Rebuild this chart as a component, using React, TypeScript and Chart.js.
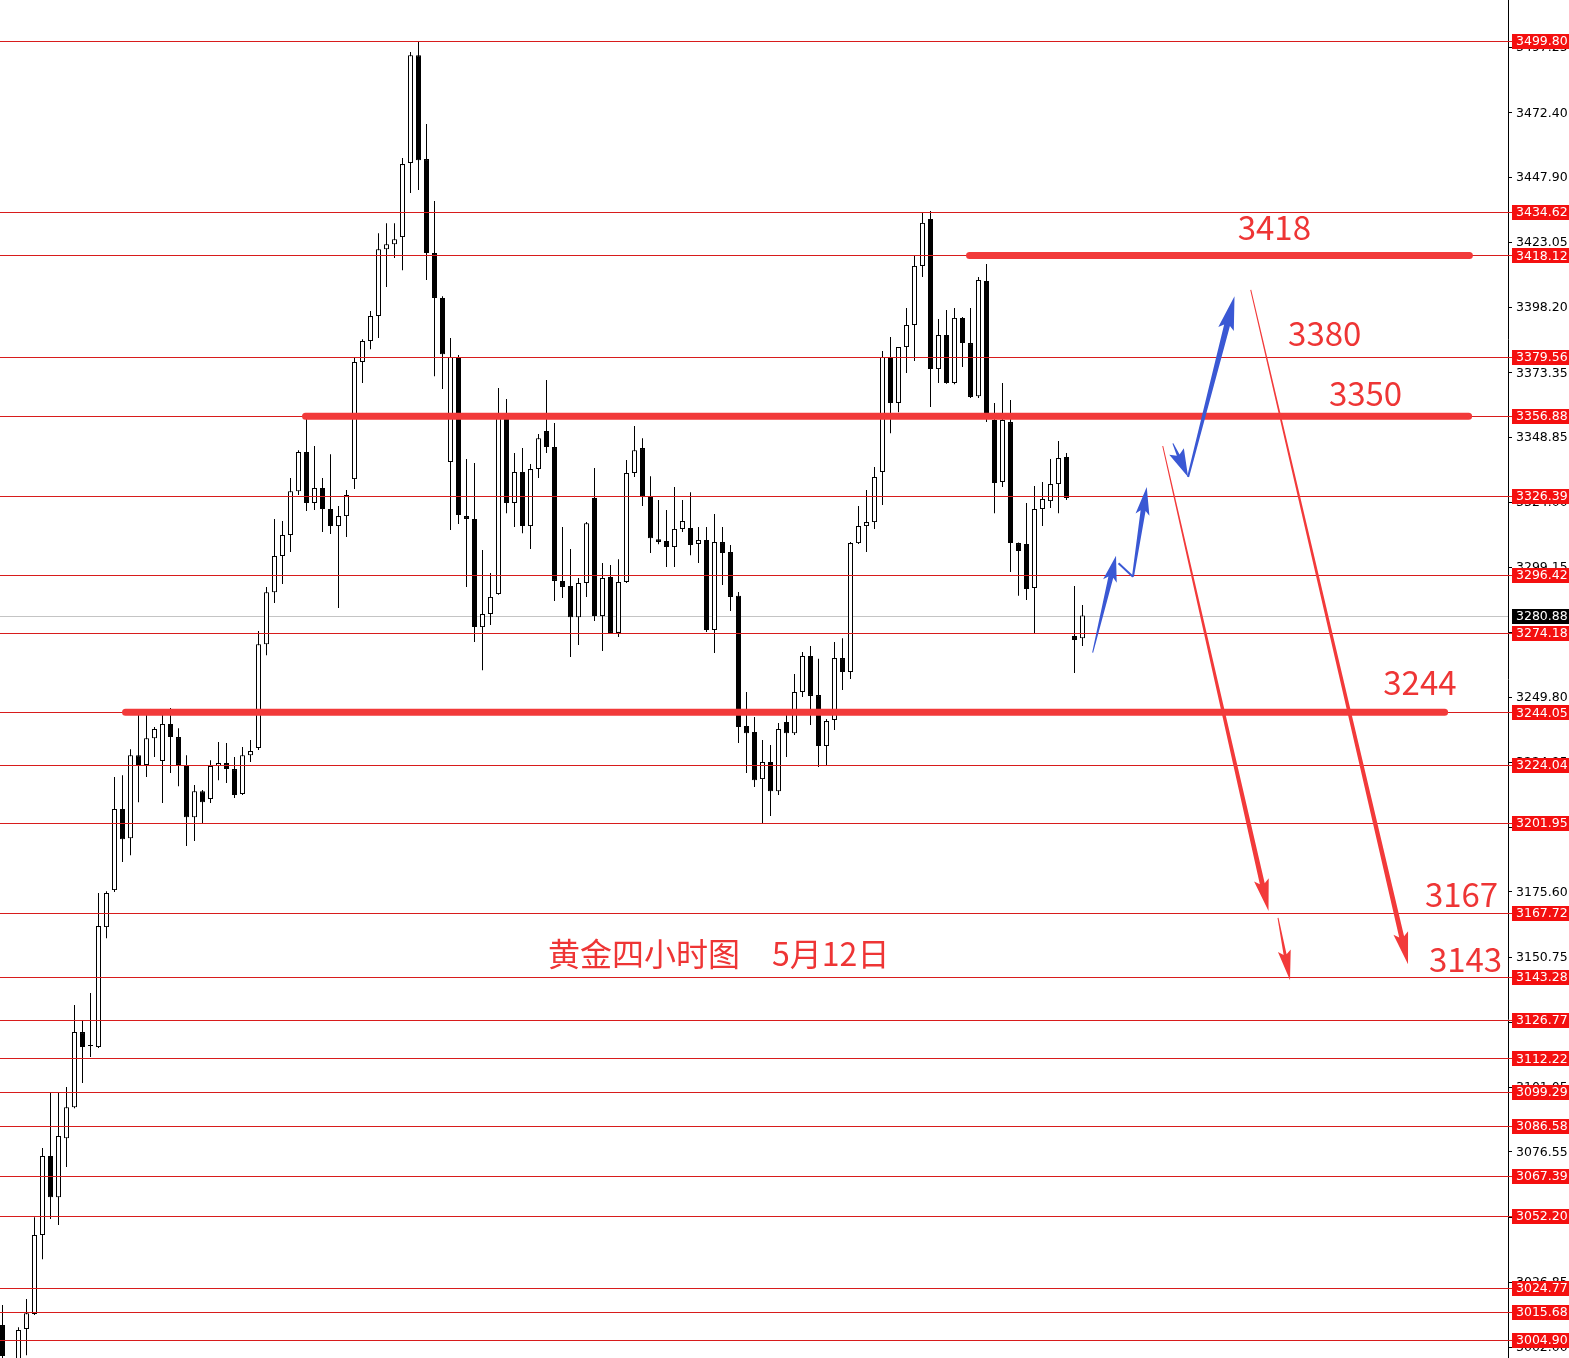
import React, { useEffect, useRef } from 'react';
import { Chart, registerables } from 'chart.js';

Chart.register(...registerables);

// ---------------- DATA ----------------
const openPrices = [
  3010.6, 2994.0, 2991.5, 3009.1, 3014.8, 3044.9, 3075.0, 3059.3, 3081.8, 3093.6,
  3122.2, 3116.9, 3116.5, 3162.2, 3176.3, 3207.2, 3196.1, 3227.7, 3224.0, 3234.2,
  3225.5, 3239.6, 3234.6, 3223.6, 3204.1, 3214.0, 3211.0, 3223.6, 3224.7, 3222.4,
  3212.9, 3227.7, 3230.4, 3270.0, 3289.8, 3303.6, 3311.6, 3328.3, 3343.2, 3323.8,
  3329.5, 3321.5, 3315.0, 3318.8, 3332.9, 3377.5, 3385.5, 3395.0, 3420.5, 3422.4,
  3425.1, 3453.3, 3494.4, 3454.8, 3419.0, 3401.9, 3339.4, 3379.4, 3318.8, 3317.7,
  3276.5, 3281.5, 3289.1, 3357.7, 3323.8, 3335.6, 3315.0, 3336.7, 3351.2, 3345.1,
  3294.1, 3292.2, 3280.3, 3293.3, 3325.7, 3280.7, 3295.6, 3274.3, 3293.7, 3335.2,
  3344.7, 3326.1, 3310.0, 3309.3, 3307.0, 3313.9, 3314.3, 3308.2, 3309.7, 3275.4,
  3308.9, 3305.1, 3288.4, 3238.8, 3236.5, 3218.6, 3225.1, 3214.0, 3240.3, 3236.1,
  3251.8, 3265.5, 3250.6, 3231.2, 3241.1, 3264.7, 3259.4, 3308.5, 3315.0, 3316.5,
  3335.6, 3379.4, 3361.9, 3383.2, 3391.6, 3414.1, 3432.0, 3374.8, 3387.8, 3369.5,
  3394.3, 3384.7, 3364.5, 3408.4, 3355.4, 3331.8, 3354.6, 3308.5, 3308.2, 3291.4,
  3321.5, 3324.5, 3331.0, 3341.3, 3273.1, 3272.3,
];
const highPrices = [
  3018.2, 2996.0, 3009.8, 3020.5, 3051.7, 3078.0, 3099.0, 3099.0, 3101.3, 3132.5,
  3126.4, 3137.1, 3175.2, 3175.9, 3219.4, 3220.1, 3230.0, 3243.7, 3245.3, 3238.4,
  3244.1, 3245.7, 3238.0, 3227.7, 3216.3, 3214.4, 3225.8, 3232.7, 3232.3, 3227.0,
  3230.8, 3233.5, 3275.0, 3291.8, 3317.7, 3316.9, 3333.3, 3343.9, 3357.7, 3345.5,
  3333.3, 3342.4, 3322.6, 3328.7, 3379.0, 3386.2, 3396.9, 3426.6, 3430.4, 3430.4,
  3455.2, 3495.6, 3499.8, 3468.2, 3438.8, 3402.6, 3386.6, 3380.2, 3340.5, 3339.0,
  3305.9, 3297.1, 3367.6, 3363.4, 3342.8, 3344.7, 3338.6, 3350.1, 3370.6, 3354.3,
  3314.6, 3306.3, 3295.2, 3316.5, 3337.1, 3300.9, 3300.2, 3302.4, 3340.2, 3353.1,
  3348.5, 3334.0, 3324.9, 3321.1, 3329.9, 3324.9, 3327.9, 3314.6, 3314.6, 3319.6,
  3314.6, 3307.8, 3289.9, 3251.8, 3242.3, 3233.5, 3231.6, 3240.0, 3244.9, 3258.6,
  3267.0, 3269.3, 3264.4, 3241.5, 3270.8, 3272.3, 3308.9, 3322.6, 3328.7, 3337.5,
  3381.7, 3387.0, 3383.2, 3398.1, 3417.9, 3434.3, 3435.0, 3393.9, 3397.3, 3398.1,
  3394.6, 3398.1, 3409.9, 3414.8, 3361.9, 3369.5, 3363.0, 3308.7, 3323.8, 3330.3,
  3331.8, 3340.5, 3347.4, 3342.8, 3292.2, 3284.9,
];
const lowPrices = [
  2995.3, 2985.0, 2989.6, 2999.1, 3014.4, 3035.7, 3051.0, 3048.7, 3070.8, 3093.2,
  3102.8, 3112.7, 3116.1, 3158.0, 3175.6, 3187.0, 3189.6, 3209.8, 3219.4, 3227.0,
  3209.5, 3220.9, 3215.9, 3193.1, 3195.0, 3201.5, 3209.5, 3218.2, 3217.1, 3211.4,
  3212.5, 3225.1, 3229.7, 3265.8, 3285.7, 3292.9, 3305.1, 3326.8, 3320.7, 3321.1,
  3312.7, 3312.0, 3283.8, 3310.8, 3329.1, 3369.5, 3382.4, 3386.6, 3406.1, 3417.1,
  3412.5, 3441.9, 3443.0, 3408.7, 3372.1, 3367.2, 3313.5, 3315.8, 3291.8, 3270.8,
  3260.1, 3277.3, 3288.8, 3319.9, 3314.6, 3312.3, 3306.3, 3333.3, 3342.8, 3286.4,
  3287.6, 3265.1, 3269.7, 3288.0, 3278.8, 3267.4, 3273.9, 3272.7, 3293.3, 3333.7,
  3322.6, 3304.7, 3308.1, 3299.4, 3299.4, 3312.7, 3303.9, 3300.9, 3274.6, 3266.6,
  3292.5, 3282.6, 3232.3, 3220.9, 3215.6, 3201.8, 3204.5, 3212.5, 3227.0, 3235.4,
  3249.9, 3239.2, 3223.2, 3224.0, 3237.3, 3252.5, 3256.7, 3308.2, 3305.1, 3313.9,
  3323.0, 3350.4, 3358.4, 3373.3, 3377.9, 3409.9, 3360.4, 3369.5, 3369.2, 3369.0,
  3375.6, 3363.8, 3363.8, 3354.6, 3319.9, 3329.9, 3297.5, 3288.4, 3286.8, 3274.3,
  3315.0, 3321.9, 3319.9, 3324.9, 3259.0, 3269.3,
];
const closePrices = [
  2998.8, 2990.0, 3008.7, 3015.1, 3044.9, 3075.0, 3059.3, 3082.6, 3093.6, 3122.2,
  3116.5, 3116.9, 3162.6, 3175.2, 3207.2, 3195.7, 3227.7, 3223.6, 3234.2, 3237.7,
  3239.6, 3234.6, 3224.0, 3204.1, 3214.0, 3209.8, 3223.6, 3224.7, 3222.4, 3212.5,
  3227.7, 3229.3, 3270.0, 3289.8, 3303.6, 3311.6, 3328.3, 3343.2, 3323.8, 3329.5,
  3321.5, 3315.0, 3318.8, 3326.8, 3377.5, 3385.5, 3395.0, 3420.5, 3422.4, 3424.3,
  3452.9, 3494.4, 3454.4, 3419.0, 3401.9, 3380.5, 3379.4, 3319.2, 3317.7, 3276.5,
  3281.5, 3288.0, 3357.7, 3323.8, 3335.6, 3315.0, 3336.7, 3348.5, 3345.1, 3294.1,
  3291.8, 3280.3, 3293.3, 3316.1, 3280.7, 3295.2, 3274.3, 3293.7, 3335.2, 3343.9,
  3326.1, 3310.4, 3308.9, 3307.0, 3313.9, 3316.9, 3307.8, 3309.7, 3275.4, 3308.9,
  3304.7, 3288.0, 3238.4, 3236.1, 3218.2, 3225.1, 3214.0, 3237.7, 3236.1, 3251.8,
  3265.5, 3250.3, 3231.2, 3240.7, 3264.7, 3259.4, 3308.5, 3315.0, 3316.5, 3333.7,
  3379.4, 3361.9, 3383.2, 3391.6, 3414.1, 3430.5, 3374.8, 3387.8, 3369.5, 3394.3,
  3384.7, 3364.2, 3408.7, 3357.3, 3331.4, 3355.4, 3308.5, 3305.5, 3291.0, 3321.5,
  3325.3, 3331.0, 3340.9, 3325.7, 3271.6, 3280.88,
];

// horizontal red levels with labels on the price axis
const levelLines = [
  3499.80, 3434.62, 3418.12, 3379.56, 3356.88, 3326.39, 3296.42, 3274.18, 3244.05,
  3224.04, 3201.95, 3167.72, 3143.28, 3126.77, 3112.22, 3099.29, 3086.58, 3067.39,
  3052.20, 3024.77, 3015.68, 3004.90,
];
const currentPrice = 3280.88;

// price axis ticks
const axisTicks = [
  3497.25, 3472.40, 3447.90, 3423.05, 3398.20, 3373.35, 3348.85, 3324.00, 3299.15,
  3274.30, 3249.80, 3224.95, 3200.10, 3175.60, 3150.75, 3125.90, 3101.05, 3076.55,
  3051.70, 3026.85, 3002.00,
];

// thick key levels (price, from bar index, to bar index)
const keyLevelPrices = [3418.12, 3356.88, 3244.05];
const keyLevelFrom = [120.44, 37.44, 14.94];
const keyLevelTo = [183.8, 183.7, 180.7];

// target labels (text, left bar index, centre price)
const targetTexts = ['3418', '3380', '3350', '3244', '3167', '3143'];
const targetX = [154.4, 160.7, 165.8, 172.6, 177.8, 178.3];
const targetY = [3428.6, 3388.2, 3365.7, 3255.6, 3174.8, 3150.0];

const titleText = '黄金四小时图　5月12日';
const titleX = 68.2;
const titleY = 3151.9;

// arrows [x0, p0, x1, p1] in bar-index / price coordinates
const blueArrows = [
  [136.27, 3266.8, 139.19, 3303.7],
  [141.31, 3295.7, 143.03, 3329.9],
  [146.3, 3346.5, 148.2, 3333.7],
  [148.2, 3333.7, 154.0, 3402.6],
];
const blueConnector = [139.5, 3300.8, 141.31, 3295.7];
const redArrows = [
  [145.03, 3345.5, 158.25, 3168.3],
  [159.44, 3165.7, 160.94, 3142.0],
  [156.03, 3405.0, 175.69, 3148.1],
];

// ---------------- LAYOUT / STYLE ----------------
const W = 1569;
const H = 1358;
const AXIS_W = 61;
const X_MIN = -0.3125;
const X_MAX = X_MIN + (W - AXIS_W) / 8;
const Y_MIN = 2998.04;
const Y_MAX = 3515.42;

const blueStyles = [
  [1, 5, 22, 14],
  [2, 5, 24, 14],
  [1, 3, 24, 16],
  [2, 6, 30, 16],
];
const redStyles = [
  [1, 5, 28, 15],
  [1, 3, 26, 13],
  [1, 5, 28, 15],
];

function drawArrow(ctx: CanvasRenderingContext2D, x0: number, y0: number, x1: number, y1: number,
  w0: number, w1: number, headLen: number, headW: number, color: string) {
  const dx = x1 - x0;
  const dy = y1 - y0;
  const len = Math.hypot(dx, dy) || 1;
  const ux = dx / len;
  const uy = dy / len;
  const nx = -uy;
  const ny = ux;
  const bx = x1 - ux * headLen;
  const by = y1 - uy * headLen;
  const wx = bx - ux * 4;
  const wy = by - uy * 4;
  ctx.beginPath();
  ctx.moveTo(x0 + nx * w0 / 2, y0 + ny * w0 / 2);
  ctx.lineTo(bx + nx * w1 / 2, by + ny * w1 / 2);
  ctx.lineTo(wx + nx * headW / 2, wy + ny * headW / 2);
  ctx.lineTo(x1, y1);
  ctx.lineTo(wx - nx * headW / 2, wy - ny * headW / 2);
  ctx.lineTo(bx - nx * w1 / 2, by - ny * w1 / 2);
  ctx.lineTo(x0 - nx * w0 / 2, y0 - ny * w0 / 2);
  ctx.closePath();
  ctx.fillStyle = color;
  ctx.fill();
}

const overlayPlugin = {
  id: 'overlay',
  beforeDatasetsDraw(chart: any) {
    const ctx = chart.ctx as CanvasRenderingContext2D;
    const { left, right } = chart.chartArea;
    const ys = chart.scales.y;
    const y = Math.round(ys.getPixelForValue(currentPrice)) + 0.5;
    ctx.save();
    ctx.strokeStyle = '#c4c4c4';
    ctx.lineWidth = 1;
    ctx.beginPath();
    ctx.moveTo(left, y);
    ctx.lineTo(right, y);
    ctx.stroke();
    ctx.restore();
  },
  afterDatasetsDraw(chart: any) {
    const ctx = chart.ctx as CanvasRenderingContext2D;
    const { left, right } = chart.chartArea;
    const xs = chart.scales.x;
    const ys = chart.scales.y;
    ctx.save();
    // thin level lines
    ctx.strokeStyle = '#d81c1c';
    ctx.lineWidth = 1;
    levelLines.forEach((v) => {
      const y = Math.round(ys.getPixelForValue(v)) + 0.5;
      ctx.beginPath();
      ctx.moveTo(left, y);
      ctx.lineTo(right + 4, y);
      ctx.stroke();
    });
    // thick key levels
    ctx.strokeStyle = '#f23a3a';
    ctx.lineWidth = 7;
    ctx.lineCap = 'round';
    keyLevelPrices.forEach((v, i) => {
      const y = ys.getPixelForValue(v);
      ctx.beginPath();
      ctx.moveTo(xs.getPixelForValue(keyLevelFrom[i]) + 3.5, y);
      ctx.lineTo(xs.getPixelForValue(keyLevelTo[i]) - 3.5, y);
      ctx.stroke();
    });
    ctx.lineCap = 'butt';
    // blue arrows
    const blue = '#3a58d4';
    blueArrows.forEach((a, i) => {
      const s = blueStyles[i];
      drawArrow(ctx, xs.getPixelForValue(a[0]), ys.getPixelForValue(a[1]),
        xs.getPixelForValue(a[2]), ys.getPixelForValue(a[3]), s[0], s[1], s[2], s[3], blue);
    });
    ctx.strokeStyle = blue;
    ctx.lineWidth = 2;
    ctx.beginPath();
    ctx.moveTo(xs.getPixelForValue(blueConnector[0]), ys.getPixelForValue(blueConnector[1]));
    ctx.lineTo(xs.getPixelForValue(blueConnector[2]), ys.getPixelForValue(blueConnector[3]));
    ctx.stroke();
    // red arrows
    redArrows.forEach((a, i) => {
      const s = redStyles[i];
      drawArrow(ctx, xs.getPixelForValue(a[0]), ys.getPixelForValue(a[1]),
        xs.getPixelForValue(a[2]), ys.getPixelForValue(a[3]), s[0], s[1], s[2], s[3], '#f23a3a');
    });
    // texts
    ctx.fillStyle = '#ee3535';
    ctx.textBaseline = 'middle';
    ctx.textAlign = 'left';
    ctx.font = '33px "Noto Sans CJK SC", "Noto Sans", sans-serif';
    targetTexts.forEach((t, i) => {
      ctx.fillText(t, xs.getPixelForValue(targetX[i]), ys.getPixelForValue(targetY[i]));
    });
    ctx.font = '32px "Noto Sans CJK SC", sans-serif';
    ctx.fillText(titleText, xs.getPixelForValue(titleX), ys.getPixelForValue(titleY));
    ctx.restore();
  },
  afterDraw(chart: any) {
    const ctx = chart.ctx as CanvasRenderingContext2D;
    const ys = chart.scales.y;
    const axisX = chart.chartArea.right;
    ctx.save();
    ctx.font = '12.5px "DejaVu Sans", sans-serif';
    ctx.textBaseline = 'middle';
    ctx.textAlign = 'left';
    ctx.fillStyle = '#000';
    axisTicks.forEach((v) => {
      ctx.fillText(v.toFixed(2), axisX + 8, ys.getPixelForValue(v) + 0.5);
    });
    levelLines.forEach((v) => {
      const y = ys.getPixelForValue(v);
      ctx.fillStyle = '#f41010';
      ctx.fillRect(axisX + 4, Math.round(y) - 7, W - axisX - 4, 15);
      ctx.fillStyle = '#fff';
      ctx.fillText(v.toFixed(2), axisX + 8, y + 1);
    });
    const cy = ys.getPixelForValue(currentPrice);
    ctx.fillStyle = '#000';
    ctx.fillRect(axisX + 4, Math.round(cy) - 7, W - axisX - 4, 15);
    ctx.fillStyle = '#fff';
    ctx.fillText(currentPrice.toFixed(2), axisX + 8, cy + 1);
    ctx.restore();
  },
};

export default function App() {
  const ref = useRef<HTMLCanvasElement>(null);
  useEffect(() => {
    document.body.style.margin = '0';
    const idx = openPrices.map((_, i) => i);
    const wickData = idx.map((i) => ({ x: i, y: [lowPrices[i], highPrices[i]] }));
    const bodyData = idx.map((i) => ({ x: i, y: [openPrices[i], closePrices[i]] }));
    const isUp = (i: number) => closePrices[i] >= openPrices[i];
    const chart = new Chart(ref.current as HTMLCanvasElement, {
      type: 'bar',
      data: {
        datasets: [
          {
            label: 'body',
            data: bodyData as any,
            order: 1,
            grouped: false,
            barThickness: 5,
            borderWidth: 1,
            borderSkipped: false,
            inflateAmount: 0,
            minBarLength: 1,
            borderColor: '#000',
            backgroundColor: (c: any) => (isUp(c.dataIndex) ? '#ffffff' : '#000000'),
          } as any,
          {
            label: 'wick',
            data: wickData as any,
            order: 2,
            grouped: false,
            barThickness: 1,
            borderWidth: 0,
            inflateAmount: 0,
            backgroundColor: '#000',
          } as any,
        ],
      },
      options: {
        responsive: false,
        maintainAspectRatio: false,
        animation: false,
        devicePixelRatio: 1,
        layout: { padding: 0 },
        plugins: { legend: { display: false }, tooltip: { enabled: false } },
        scales: {
          x: { type: 'linear', min: X_MIN, max: X_MAX, display: false, offset: false },
          y: {
            type: 'linear',
            position: 'right',
            min: Y_MIN,
            max: Y_MAX,
            afterFit: (s: any) => { s.width = AXIS_W; },
            afterBuildTicks: (s: any) => { s.ticks = axisTicks.map((v) => ({ value: v })); },
            ticks: { display: false },
            grid: { drawOnChartArea: false, drawTicks: true, tickLength: 4, color: '#000' },
            border: { display: true, color: '#000', width: 1 },
          },
        },
      } as any,
      plugins: [overlayPlugin],
    });
    return () => chart.destroy();
  }, []);
  return (
    <div style={{ width: W, height: H, background: '#fff' }}>
      <canvas ref={ref} width={W} height={H} style={{ display: 'block', width: W, height: H }} />
    </div>
  );
}
